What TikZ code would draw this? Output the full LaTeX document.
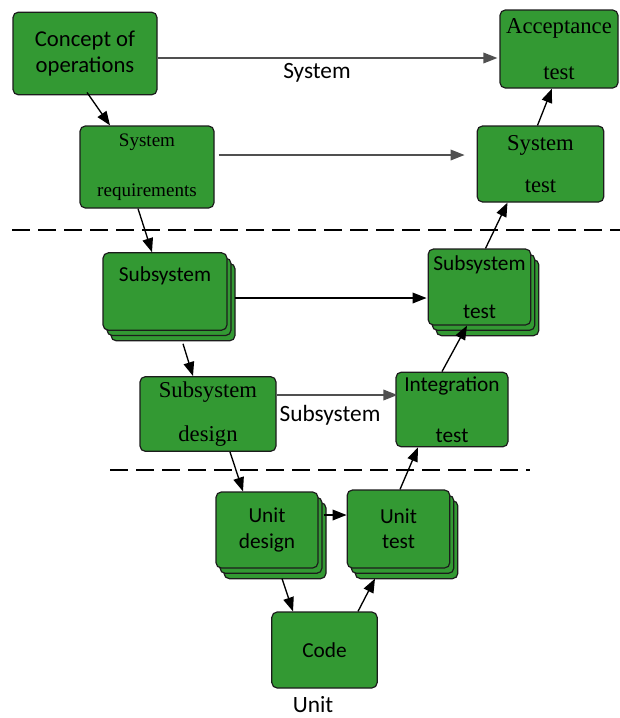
\documentclass[tikz,border=0pt]{standalone}
\usepackage{fontspec}
\setmainfont{Liberation Serif}
\newfontfamily\calibri{Carlito}
\usepackage{xcolor}
\usepackage{tikz}
\usetikzlibrary{arrows.meta,calc,shadows}
\definecolor{leaf}{HTML}{339933}
\definecolor{edge}{HTML}{1C1C1C}
\definecolor{wire}{HTML}{505050}

\begin{document}
\begin{tikzpicture}[
  x=0.75pt,y=-0.75pt,
  box/.style={draw=edge,line width=0.9pt,rounded corners=4pt,fill=leaf,align=center,inner sep=2pt},
  sans/.style={font=\calibri\fontsize{16}{19}\selectfont},
  serif/.style={font=\fontsize{17}{20.4}\selectfont},
  stacked/.style={double copy shadow={shadow xshift=3pt,shadow yshift=-4pt}},
  arr/.style={-{Triangle[length=10.5pt,width=8pt]},line width=1pt,draw=black},
  grayarr/.style={arr,draw=wire},
  divider/.style={dash pattern=on 13.5pt off 6pt,line width=1.2pt},
  phase/.style={font=\calibri\fontsize{17.5}{21}\selectfont}
]
\useasboundingbox (0,0) rectangle (620,718);

% left leg
\node[box,sans,font=\calibri\fontsize{17}{19}\selectfont,minimum width=108pt,minimum height=62pt] (concept) at (85,53.5) {Concept of\\operations};
\node[box,serif,font=\fontsize{14.3}{16.8}\selectfont,minimum width=100.5pt,minimum height=61.5pt] (sysreq) at (147,167) {System\\[20.7pt]requirements};
\node[box,sans,stacked,text depth=26pt,minimum width=93pt,minimum height=58pt] (subsys) at (165,291.5) {Subsystem};
\node[box,serif,minimum width=102pt,minimum height=56pt] (subdes) at (208,414) {Subsystem\\[12.6pt]design};
\node[box,sans,stacked,minimum width=76.5pt,minimum height=57pt] (unitdes) at (267,530) {Unit\\design};

% bottom
\node[box,sans,minimum width=79pt,minimum height=57pt] (code) at (324.5,650) {Code};

% right leg
\node[box,sans,stacked,minimum width=77pt,minimum height=58.5pt] (unittest) at (398.5,529) {Unit\\test};
\node[box,sans,minimum width=84pt,minimum height=56pt] (integ) at (452,409.5) {Integration\\[19pt]test};
\node[box,sans,stacked,minimum width=77pt,minimum height=57pt] (subtest) at (479.5,287) {Subsystem\\[17pt]test};
\node[box,serif,minimum width=95pt,minimum height=57pt] (systest) at (540.5,164) {System\\[11.6pt]test};
\node[box,serif,minimum width=88.5pt,minimum height=58.5pt] (accept) at (559,49) {Acceptance\\[13.6pt]test};

% level labels
\node[phase] (lblsys) at (317,73) {System};
\node[phase] (lblsub) at (330,415) {Subsystem};
\node[phase,anchor=base,inner sep=1pt] (lblunit) at (313,712) {Unit};

% level dividers
\draw[divider] (12,230) -- (620,230);
\draw[divider] (110,470) -- (530,470);

% down the left
\draw[arr] ($(concept.south)+(2,-3)$) -- ($(sysreq.north)+(-37,0)$);
\draw[arr] ($(sysreq.south)+(-9,0)$) -- ($(subsys.north)+(-13,0)$);
\draw[arr] ($(subsys.south)+(18,13)$) -- ($(subdes.north)+(-15,0)$);
\draw[arr] ($(subdes.south)+(22,0)$) -- ($(unitdes.north)+(-24,0)$);
\draw[arr] ($(unitdes.south)+(15,10)$) -- ($(code.north)+(-31.5,0)$);

% up the right
\draw[arr] ($(code.north)+(33.5,0)$) -- ($(unittest.south)+(-23.5,10)$);
\draw[arr] ($(unittest.north)+(1.5,0)$) -- ($(integ.south)+(-34,0)$);
\draw[arr] ($(integ.north)+(-10,0)$) -- ($(subtest.south)+(-12.5,0)$);
\draw[arr] ($(subtest.north)+(6,0)$) -- ($(systest.south)+(-33,0)$);
\draw[arr] ($(systest.north)+(-3,0)$) -- ($(accept.south)+(-7,0)$);

% across
\draw[grayarr] ($(concept.east)+(0,4.5)$) -- ($(accept.west)+(-2,9)$);
\draw[grayarr] ($(sysreq.east)+(4,-12)$) -- ($(systest.west)+(-12,-9)$);
\draw[arr] ($(subsys.east)+(7,6.5)$) -- ($(subtest.west)+(-1,11)$);
\draw[grayarr] ($(subdes.east)+(0,-19)$) -- ($(integ.west)+(2,-14.5)$);
\draw[arr] ($(unitdes.east)+(5,-15)$) -- ($(unittest.west)+(0,-14)$);
\end{tikzpicture}
\end{document}
